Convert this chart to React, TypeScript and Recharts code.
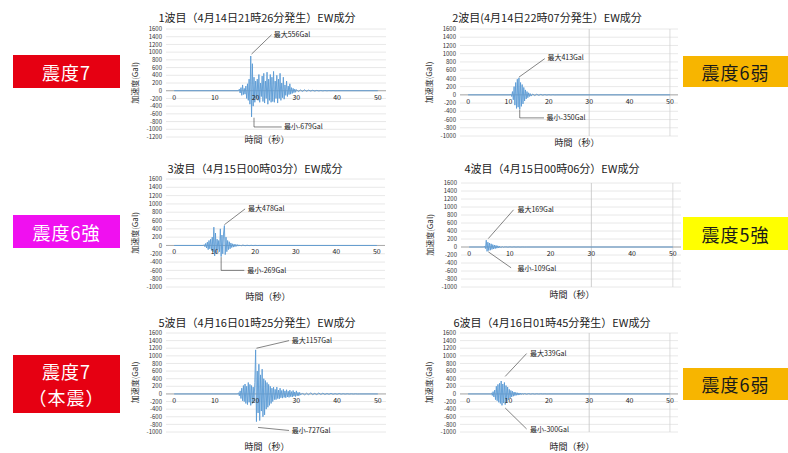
import React from 'react'
import { LineChart, Line, XAxis, YAxis, CartesianGrid, ReferenceLine, ReferenceDot } from 'recharts'

const FONT = '"Noto Sans CJK JP", "Noto Sans", sans-serif'
const STEP = 0.2
const TAIL_STEP = 0.5
const X_MIN = -2
const X_MAX = 52
const AXIS_W = 40
const X_TICKS = [0, 10, 20, 30, 40, 50]
const Y_TICKS = [1600, 1400, 1200, 1000, 800, 600, 400, 200, 0, -200, -400, -600, -800, -1000]
const Y_TICKS_1 = [...Y_TICKS, -1200]

// acceleration (Gal), sampled every STEP seconds from the start time
const q1Start = 16.0
const q1Acc = [
  40, -60, 80, -120, 150, -100, 60, -90, 120, -200,
  180, -250, 300, -350, 900, -679, 700, -400, 350, -300,
  250, -200, 300, -250, 420, -300, 200, -150, 380, -280,
  450, -320, 250, -200, 480, -350, 300, -250, 420, -300,
  350, -280, 500, -300, 250, -200, 400, -320, 300, -200,
  450, -250, 200, -180, 350, -220, 150, -120, 250, -150,
  120, -100, 180, -90, 80, -70, 60, -50, 40, -40,
]
const q1TailStart = 30.0
const q1Tail = [30, -25, 20, -20, 25, -15, 15, -10, 12, -10, 8, -6, 5, -5, 4, -3, 3, -2, 2, -2]

const q2Start = 10.6
const q2Acc = [
  20, -40, 80, -120, 200, -250, 300, -330, 380, -300,
  413, -350, 300, -280, 250, -220, 180, -150, 120, -100,
  80, -70, 50, -40, 30, -30,
]
const q2TailStart = 16.0
const q2Tail = [20, -18, 15, -12, 10, -8, 6, -5, 4, -3, 3, -2]

const q3Start = 7.4
const q3Acc = [
  20, -30, 50, -60, 80, -100, 120, -80,
  150, -120, 200, -150, 440, -250, 300, -200, 150, -100,
  120, -150, 400, -269, 250, -200, 300, 478, -220, 200,
  -150, 120, -100, 90, -80, 60, -50, 40, -40, 30,
  -30, 25, -20, 20, -15, 15, -10, 10, -10, 5,
]
const q3TailStart = 17.0
const q3Tail = [8, -6, 5, -4, 3, -3, 2, -2]

const q4Start = 3.8
const q4Acc = [
  20, -40, 169, -109, 120, -90, 100, -80, 80, -60,
  60, -50, 50, -40, 40, -30, 30, -25, 20, -15,
  10, -10, 8, -8, 5, -5,
]
const q4TailStart = 9.0
const q4Tail = [5, -4, 4, -3, 3, -2, 2, -2, 1, -1]

const q5Start = 15.8
const q5Acc = [
  30, -50, 80, -120, 150, -180, 220, -200, 260, -250,
  200, -280, 300, -220, 250, -300, 220, -250, 180, -200,
  300, 1157, -727, 600, -500, 780, -700, 500, -450, 650,
  -600, 400, -550, 350, -400, 300, -350, 250, -300, 200,
  -250, 150, -200, 180, -150, 120, -150, 180, -120, 100,
  -130, 150, -100, 90, -110, 120, -90, 80, -100, 110,
  -80, 70, -90, 100, -70, 60, -80, 90, -60, 50,
  -70, 80, -50, 40, -50, 40, -30,
]
const q5TailStart = 31.5
const q5Tail = [
  25, -30, 20, -25, 30, -20, 15, -20, 25, -15, 20, -15, 12, -10,
  15, -10, 8, -8, 10, -6, 6, -5, 5, -4, 4, -3, 3, -2,
]

const q6Start = 5.8
const q6Acc = [
  20, -40, 60, -80, 100, -150, 200, -180, 250, -220,
  280, -250, 339, -300, 260, -240, 300, -280, 220, -200,
  180, -150, 120, -110, 90, -80, 70, -60, 50, -45,
  40, -35, 30, -30, 25, -20, 20, -15, 15, -10,
]
const q6TailStart = 14.0
const q6Tail = [10, -8, 8, -6, 5, -5, 4, -3, 3, -2, 2, -2]

const titles = [
  '1波目（4月14日21時26分発生）EW成分',
  '2波目(4月14日22時07分発生）EW成分',
  '3波目（4月15日00時03分）EW成分',
  '4波目（4月15日00時06分）EW成分',
  '5波目（4月16日01時25分発生）EW成分',
  '6波目（4月16日01時45分発生）EW成分',
]
const maxTexts = ['最大556Gal', '最大413Gal', '最大478Gal', '最大169Gal', '最大1157Gal', '最大339Gal']
const minTexts = ['最小-679Gal', '最小-350Gal', '最小-269Gal', '最小-109Gal', '最小-727Gal', '最小-300Gal']

type Pt = { t: number; v: number }
const r2 = (n: number) => Math.round(n * 100) / 100

function buildSeries(start: number, acc: number[], tailStart: number, tail: number[]): Pt[] {
  const out: Pt[] = [{ t: 0, v: 0 }, { t: r2(start - STEP), v: 0 }]
  acc.forEach((v, i) => out.push({ t: r2(start + i * STEP), v }))
  tail.forEach((v, i) => out.push({ t: r2(tailStart + i * TAIL_STEP), v }))
  out.push({ t: r2(tailStart + tail.length * TAIL_STEP), v: 0 })
  out.push({ t: 50, v: 0 })
  return out
}

type Seg = [[number, number], [number, number]]
interface PanelCfg {
  data: Pt[]
  title: string
  titleX: number
  titleY: number
  xTitleX: number
  xTitleY: number
  x0: number
  x1: number
  yTop: number
  yBot: number
  yMin: number
  right: boolean
  maxSegs: Seg[]
  maxAt: [number, number]
  maxText: string
  minSegs: Seg[]
  minAt: [number, number]
  minText: string
}

const panels: PanelCfg[] = [
  {
    data: buildSeries(q1Start, q1Acc, q1TailStart, q1Tail), title: titles[0],
    titleX: 257, titleY: 17, xTitleX: 267, xTitleY: 140,
    x0: 174, x1: 378, yTop: 29, yBot: 137, yMin: -1200, right: false,
    maxSegs: [[[19.0, 950], [23.9, 1450]]], maxAt: [24.2, 1450], maxText: maxTexts[0],
    minSegs: [[[19.6, -700], [19.6, -940]], [[19.6, -940], [26.4, -940]]], minAt: [26.7, -940], minText: minTexts[0],
  },
  {
    data: buildSeries(q2Start, q2Acc, q2TailStart, q2Tail), title: titles[1],
    titleX: 547, titleY: 17, xTitleX: 577, xTitleY: 143,
    x0: 468, x1: 670, yTop: 29, yBot: 136, yMin: -1000, right: true,
    maxSegs: [[[12.6, 430], [19.0, 880]]], maxAt: [19.4, 900], maxText: maxTexts[1],
    minSegs: [[[12.8, -360], [12.8, -560]], [[12.8, -560], [18.8, -560]]], minAt: [19.2, -560], minText: minTexts[1],
  },
  {
    data: buildSeries(q3Start, q3Acc, q3TailStart, q3Tail), title: titles[2],
    titleX: 255, titleY: 168, xTitleX: 268, xTitleY: 297,
    x0: 174, x1: 377, yTop: 179, yBot: 287, yMin: -1000, right: false,
    maxSegs: [[[12.4, 500], [17.5, 880]]], maxAt: [18.0, 900], maxText: maxTexts[2],
    minSegs: [[[11.6, -280], [11.6, -600]], [[11.6, -600], [17.3, -600]]], minAt: [17.8, -600], minText: minTexts[2],
  },
  {
    data: buildSeries(q4Start, q4Acc, q4TailStart, q4Tail), title: titles[3],
    titleX: 552, titleY: 168, xTitleX: 572, xTitleY: 295,
    x0: 469, x1: 673, yTop: 183, yBot: 287, yMin: -1000, right: true,
    maxSegs: [[[4.7, 210], [10.9, 930]]], maxAt: [11.6, 930], maxText: maxTexts[3],
    minSegs: [[[4.7, -120], [10.3, -520]]], minAt: [11.6, -540], minText: minTexts[3],
  },
  {
    data: buildSeries(q5Start, q5Acc, q5TailStart, q5Tail), title: titles[4],
    titleX: 257, titleY: 322, xTitleX: 267, xTitleY: 447,
    x0: 174, x1: 378, yTop: 333, yBot: 432, yMin: -1000, right: false,
    maxSegs: [[[20.2, 1200], [28.2, 1400]]], maxAt: [28.6, 1400], maxText: maxTexts[4],
    minSegs: [[[20.6, -880], [28.2, -960]]], minAt: [28.6, -960], minText: minTexts[4],
  },
  {
    data: buildSeries(q6Start, q6Acc, q6TailStart, q6Tail), title: titles[5],
    titleX: 552, titleY: 322, xTitleX: 572, xTitleY: 447,
    x0: 468, x1: 670, yTop: 333, yBot: 432, yMin: -1000, right: true,
    maxSegs: [[[9.2, 460], [14.5, 1060]]], maxAt: [15.1, 1060], maxText: maxTexts[5],
    minSegs: [[[9.2, -370], [14.5, -920]]], minAt: [15.1, -930], minText: minTexts[5],
  },
]

const boxes = [
  { text: ['震度7'], left: 13, top: 55, width: 107, height: 33, bg: '#e60012', color: '#fff' },
  { text: ['震度6強'], left: 13, top: 215, width: 107, height: 33, bg: '#f010f0', color: '#fff' },
  { text: ['震度7', '（本震）'], left: 13, top: 355, width: 107, height: 58, bg: '#e60012', color: '#fff' },
  { text: ['震度6弱'], left: 683, top: 56, width: 105, height: 31, bg: '#f7b500', color: '#1a1a1a' },
  { text: ['震度5強'], left: 683, top: 217, width: 105, height: 33, bg: '#ffff00', color: '#1a1a1a' },
  { text: ['震度6弱'], left: 683, top: 368, width: 105, height: 32, bg: '#f7b500', color: '#1a1a1a' },
]

function YTitle(props: any) {
  const vb = props.viewBox || { x: 0, y: 0, width: 0, height: 0 }
  const cx = vb.x + 8
  const cy = vb.y + vb.height / 2
  return (
    <text x={cx} y={cy} transform={`rotate(-90 ${cx} ${cy})`} textAnchor="middle"
      dominantBaseline="central" fontSize={8} fill="#333" fontFamily={FONT}>
      加速度(Gal)
    </text>
  )
}

function Panel({ p }: { p: PanelCfg }) {
  const pxPerSec = (p.x1 - p.x0) / 50
  const plotLeft = p.x0 + X_MIN * pxPerSec
  const plotRight = p.x0 + X_MAX * pxPerSec
  const left = plotLeft - AXIS_W
  const width = Math.round(plotRight - left + 4)
  const padTop = 6
  const padBot = 6
  const top = p.yTop - padTop
  const height = p.yBot - p.yTop + padTop + padBot
  const lineStyle = { stroke: '#333', strokeWidth: 0.6 }
  const txt = { fontSize: 7, fill: '#222', fontFamily: FONT }

  return (
    <>
      <div style={{
        position: 'absolute', left: p.titleX - 160, top: p.titleY - 8, width: 320, height: 16,
        lineHeight: '16px', textAlign: 'center', fontSize: 11, color: '#222', whiteSpace: 'nowrap',
      }}>{p.title}</div>
      <div style={{
        position: 'absolute', left: p.xTitleX - 40, top: p.xTitleY - 6, width: 80, height: 12,
        lineHeight: '12px', textAlign: 'center', fontSize: 9, color: '#222', whiteSpace: 'nowrap',
      }}>時間（秒）</div>
      <div style={{ position: 'absolute', left, top }}>
        <LineChart width={width} height={height} data={p.data}
          margin={{ top: padTop, right: 4, bottom: padBot, left: 0 }}>
          <CartesianGrid vertical={false} stroke="#e2e2e2" strokeWidth={0.8} />
          <XAxis type="number" dataKey="t" domain={[X_MIN, X_MAX]} hide allowDataOverflow />
          <YAxis type="number" domain={[p.yMin, 1600]} ticks={p.yMin === -1200 ? Y_TICKS_1 : Y_TICKS}
            interval={0} width={AXIS_W} tickLine={false} axisLine={false} tickSize={0} tickMargin={4}
            tick={{ fontSize: 6, fill: '#333', fontFamily: FONT }} allowDataOverflow
            label={<YTitle />} />
          {p.right && <ReferenceLine x={30} stroke="#c4c4c4" strokeWidth={0.8} />}
          {p.right && <ReferenceLine x={50} stroke="#d4d4d4" strokeWidth={0.8} />}
          <ReferenceLine y={0} stroke="#9a9a9a" strokeWidth={0.8} />
          <Line type="linear" dataKey="v" stroke="#5b9bd5" strokeWidth={0.9} dot={false}
            isAnimationActive={false} />
          {X_TICKS.map((v) => (
            <ReferenceDot key={v} x={v} y={0} r={0} fill="none" stroke="none" ifOverflow="visible"
              label={{ value: String(v), position: 'bottom', offset: 4, ...txt }} />
          ))}
          {[...p.maxSegs, ...p.minSegs].map((s, i) => (
            <ReferenceLine key={'s' + i} ifOverflow="visible" {...lineStyle}
              segment={[{ x: s[0][0], y: s[0][1] }, { x: s[1][0], y: s[1][1] }]} />
          ))}
          <ReferenceDot x={p.maxAt[0]} y={p.maxAt[1]} r={0} fill="none" stroke="none" ifOverflow="visible"
            label={{ value: p.maxText, position: 'right', offset: 1, ...txt }} />
          <ReferenceDot x={p.minAt[0]} y={p.minAt[1]} r={0} fill="none" stroke="none" ifOverflow="visible"
            label={{ value: p.minText, position: 'right', offset: 1, ...txt }} />
        </LineChart>
      </div>
    </>
  )
}

export default function App() {
  return (
    <div style={{
      position: 'absolute', left: 0, top: 0, width: 788, height: 453, background: '#fff',
      fontFamily: FONT, overflow: 'hidden',
    }}>
      {panels.map((p, i) => <Panel key={i} p={p} />)}
      {boxes.map((b, i) => (
        <div key={'b' + i} style={{
          position: 'absolute', left: b.left, top: b.top, width: b.width, height: b.height,
          background: b.bg, color: b.color, display: 'flex', flexDirection: 'column',
          alignItems: 'center', justifyContent: 'center', fontSize: 18, lineHeight: '26px',
          letterSpacing: 1,
        }}>
          {b.text.map((t) => <div key={t} style={{ height: 26 }}>{t}</div>)}
        </div>
      ))}
    </div>
  )
}
